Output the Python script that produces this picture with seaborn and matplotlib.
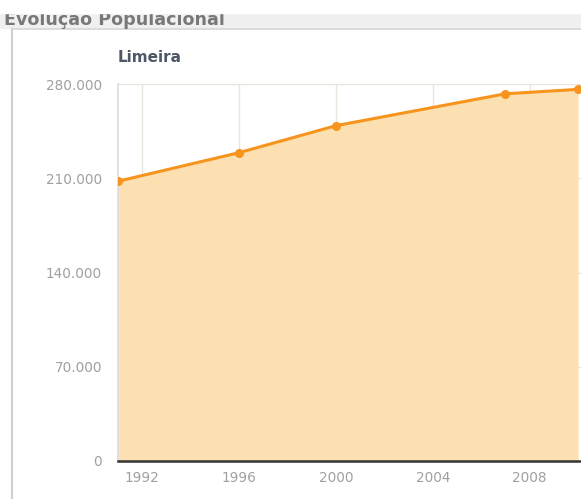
import numpy as np
import matplotlib
matplotlib.use("Agg")
import matplotlib.pyplot as plt
import seaborn as sns
from matplotlib.ticker import FuncFormatter

# dados
anos = [1991, 1996, 2000, 2007, 2010]
populacao = [207770, 229000, 249046, 272734, 276022]
y_ticks = [0, 70000, 140000, 210000, 280000]
x_ticks = [1992, 1996, 2000, 2004, 2008]

sns.set_theme(style="white")
plt.rcParams["font.family"] = ["DejaVu Sans"]

W, H = 581, 499
fig = plt.figure(figsize=(W / 100, H / 100), dpi=100)

# moldura da página
fig.patches.append(plt.Rectangle((0, 1 - 28 / H), 1, 15 / H, transform=fig.transFigure,
                                 color="#f0f0f0", zorder=0))
fig.add_artist(plt.Line2D([12 / W, 12 / W], [0, 1 - 29 / H],
                          transform=fig.transFigure, color="#cfcfcf", lw=1.5))
fig.add_artist(plt.Line2D([12 / W, 1], [1 - 29 / H, 1 - 29 / H],
                          transform=fig.transFigure, color="#d6d6d6", lw=1.2))
fig.text(4 / W, 1 - 25 / H, "Evolução Populacional", fontsize=12.6, fontweight="bold",
         color="#787878", va="baseline", ha="left")
# topo cortado como na captura
fig.add_artist(plt.Rectangle((0, 1 - 13 / H), 1, 13 / H, transform=fig.transFigure,
                             color="white", zorder=10))
fig.text(150 / W, 1 - 57 / H, "Limeira", fontsize=11, fontweight="bold",
         color="#4d5766", va="center", ha="center")

ax = fig.add_axes([118 / W, 38 / H, 1 - 118 / W, 377 / H])

ax.fill_between(anos, populacao, 0, color="#fde0b2", alpha=1, zorder=1, lw=0)
sns.lineplot(x=anos, y=populacao, ax=ax, color="#f7941d", lw=2.2, marker="o",
             markersize=6.5, markeredgewidth=0, zorder=3)

ax.set_xlim(1991, 2010.12)
ax.set_ylim(0, 280000)
ax.set_xticks(x_ticks)
ax.set_yticks(y_ticks)
ax.yaxis.set_major_formatter(FuncFormatter(lambda v, p: f"{int(v):,}".replace(",", ".")))

ax.grid(True, color="#e3dccf", lw=1, zorder=2)
for gl in ax.get_xgridlines() + ax.get_ygridlines():
    gl.set_zorder(2)
    gl.set_alpha(0.7)

for side in ["top", "right"]:
    ax.spines[side].set_visible(False)
ax.spines["left"].set_color("#dddddd")
ax.spines["bottom"].set_color("#333333")
ax.spines["bottom"].set_linewidth(1.8)

ax.tick_params(axis="both", colors="#a0a0a0", labelsize=9.8, length=0)
ax.tick_params(axis="x", pad=7)
ax.tick_params(axis="y", pad=11.5)
ax.set_xlabel("")
ax.set_ylabel("")

fig.savefig("out.png", dpi=100)
